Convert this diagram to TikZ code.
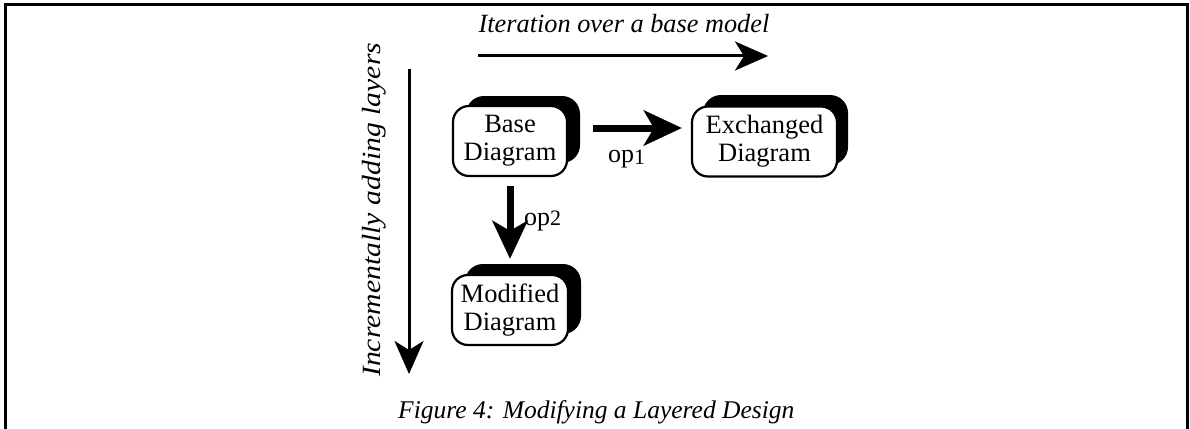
\documentclass[tikz,border=0pt]{standalone}
\usepackage{fontspec}
\setmainfont{Liberation Serif}
\usetikzlibrary{arrows.meta,calc}
\begin{document}
\begin{tikzpicture}[x=1pt,y=-1pt,
  frameline/.style={line width=3pt},
  thinarrow/.style={line width=3pt,-{Stealth[length=33pt,width=29pt,inset=9pt]}},
  thickarrow/.style={line width=7pt,-{Stealth[length=38pt,width=35pt,inset=10pt]}},
  diag/.style={draw,line width=2.2pt,fill=white,rounded corners=16pt,
    minimum height=70pt,align=center,inner sep=0pt,
    font=\fontsize{26.5}{28}\selectfont},
  shadowbox/.style={fill=black,rounded corners=18pt},
  lbl/.style={font=\fontsize{26.3}{28}\selectfont\itshape,inner sep=0pt},
  caplbl/.style={font=\fontsize{25.5}{28}\selectfont\itshape,inner sep=0pt},
  oplbl/.style={font=\fontsize{26}{28}\selectfont,inner sep=0pt,anchor=base west}
]
\useasboundingbox (0,0) rectangle (1190,428);
% frame
\draw[frameline] (5,430) -- (5,5) -- (1187,5) -- (1187,430);
% title and top arrow
\node[lbl,anchor=base] (title) at (624,33) {Iteration over a base model};
\coordinate (hstart) at (478,56);
\coordinate (hend) at (768,56);
\draw[thinarrow] (hstart) -- (hend);
% side text and arrow
\node[lbl,anchor=base west,rotate=90] (side) at (380,377) {\scalebox{1.13}[1]{Incrementally adding layers}};
\coordinate (vstart) at (409,69);
\coordinate (vend) at (409,374);
\draw[thinarrow] (vstart) -- (vend);
% shadows
\fill[shadowbox] (466,96) rectangle (580,163);
\fill[shadowbox] (703,95) rectangle (848,165);
\fill[shadowbox] (465,264) rectangle (581,334);
% boxes
\node[diag,minimum width=114pt] (base) at (510,141) {Base\\Diagram};
\node[diag,minimum width=145pt] (exch) at (764.5,141.5) {Exchanged\\Diagram};
\node[diag,minimum width=116pt] (mod) at (510,310) {Modified\\Diagram};
% operation arrows
\draw[thickarrow] ([shift={(25,-13)}]base.east) -- ([shift={(-9,-13.5)}]exch.west);
\draw[thickarrow] ([shift={(0,9)}]base.south) -- ([shift={(0,-15)}]mod.north);
\node[oplbl] (op1) at (608,162) {op{\fontsize{22}{24}\selectfont\raisebox{-2pt}{1}}};
\node[oplbl] (op2) at (524,225) {op{\fontsize{22}{24}\selectfont 2}};
% caption
\node[caplbl,anchor=base west] (cap) at (398,418) {Figure 4: Modifying a Layered Design};
\end{tikzpicture}
\end{document}
